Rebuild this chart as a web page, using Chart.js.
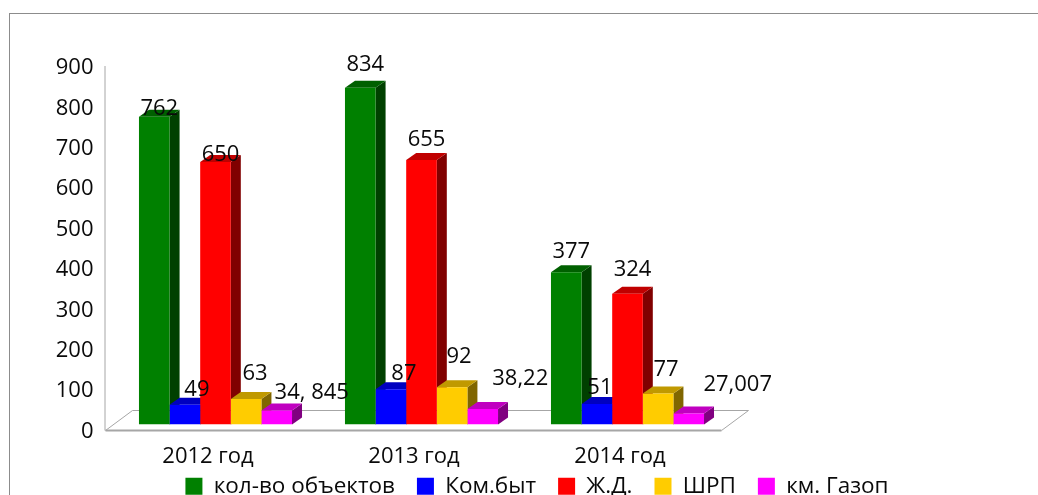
<!DOCTYPE html>
<html>
<head>
<meta charset="utf-8">
<style>
    html, body { margin: 0; padding: 0; background: #fff; overflow: hidden; }
    #box { position: absolute; left: 9px; top: 13px; width: 1040px; height: 500px; border: 1px solid #8c8c8c; box-sizing: border-box; }
    canvas { position: absolute; left: 0; top: 0; }
</style>
<script src="https://cdn.jsdelivr.net/npm/chart.js@4"></script>
</head>
<body>
<div id="box"></div>
<canvas id="chart" width="1038" height="495"></canvas>
<script>
const categories = ['2012 год', '2013 год', '2014 год'];
const seriesNames = ['кол-во объектов', 'Ком.быт', 'Ж.Д.', 'ШРП', 'км. Газоп'];
const objects = [762, 834, 377];
const komByt = [49, 87, 51];
const railway = [650, 655, 324];
const shrp = [63, 92, 77];
const gasKm = [34.845, 38.22, 27.007];
const gasLabels = ['34, 845', '38,22', '27,007'];

const FONT = '"Open Sans", sans-serif';

// front, top, side
const shades = [
    ['#008000', '#006000', '#004000'],
    ['#0000ff', '#0000c0', '#000080'],
    ['#ff0000', '#c00000', '#800000'],
    ['#ffcc00', '#c09900', '#806600'],
    ['#ff00ff', '#c000c0', '#800080']
];

// where each value label sits relative to the bar's top centre
const labelShift = [
    [[5, -8], [5, -23], [5, -20]],
    [[12, -15], [13, -16], [3, -16]],
    [[5, -7], [5, -20], [5, -24]],
    [[9, -25], [7, -31], [8, -24]],
    [[35, -18], [37.5, -30], [49, -29]]
];

const DEPTH_X = 10, DEPTH_Y = 7;

const depthPlugin = {
    id: 'depth',
    afterLayout(chart) {
        chart.legend.left += 18;
        chart.legend.right += 18;
        chart.legend.top = 453;
    },
    beforeDatasetsDraw(chart) {
        const ctx = chart.ctx;
        const base = chart.scales.y.getPixelForValue(0);
        const area = chart.chartArea;
        ctx.save();

        // floor
        ctx.strokeStyle = '#a6a6a6';
        ctx.lineWidth = 1;
        ctx.beginPath();
        ctx.moveTo(area.left - 7, base + 6);
        ctx.lineTo(area.left + 20, base - 14);
        ctx.lineTo(area.right + 18, base - 14);
        ctx.lineTo(area.right - 9, base + 6);
        ctx.stroke();
        ctx.lineWidth = 2;
        ctx.beginPath();
        ctx.moveTo(area.left - 7, base + 6);
        ctx.lineTo(area.right - 9, base + 6);
        ctx.stroke();

        // value wall edge
        ctx.lineWidth = 1;
        ctx.beginPath();
        ctx.moveTo(area.left - 7.5, area.top + 5);
        ctx.lineTo(area.left - 7.5, base + 6);
        ctx.stroke();

        // tops and sides, left to right, so the next front covers them
        categories.forEach((c, i) => {
            seriesNames.forEach((s, d) => {
                const bar = chart.getDatasetMeta(d).data[i];
                const l = bar.x - bar.width / 2, r = bar.x + bar.width / 2;
                ctx.fillStyle = shades[d][2];
                ctx.beginPath();
                ctx.moveTo(r, bar.y);
                ctx.lineTo(r + DEPTH_X, bar.y - DEPTH_Y);
                ctx.lineTo(r + DEPTH_X, base - DEPTH_Y);
                ctx.lineTo(r, base);
                ctx.closePath();
                ctx.fill();
                ctx.fillStyle = shades[d][1];
                ctx.beginPath();
                ctx.moveTo(l, bar.y);
                ctx.lineTo(l + DEPTH_X, bar.y - DEPTH_Y);
                ctx.lineTo(r + DEPTH_X, bar.y - DEPTH_Y);
                ctx.lineTo(r, bar.y);
                ctx.closePath();
                ctx.fill();
            });
        });
        ctx.restore();
    },
    afterDatasetsDraw(chart) {
        const ctx = chart.ctx;
        ctx.save();
        ctx.font = '22px ' + FONT;
        ctx.fillStyle = '#0a0a0a';
        ctx.textAlign = 'center';
        ctx.textBaseline = 'middle';
        seriesNames.forEach((s, d) => {
            chart.getDatasetMeta(d).data.forEach((bar, i) => {
                const value = chart.data.datasets[d].data[i];
                const text = d === 4 ? gasLabels[i] : String(value);
                ctx.fillText(text, bar.x + labelShift[d][i][0], bar.y + labelShift[d][i][1]);
            });
        });
        ctx.restore();
    }
};

const allSeries = [objects, komByt, railway, shrp, gasKm];

new Chart(document.getElementById('chart'), {
    type: 'bar',
    data: {
        labels: categories,
        datasets: seriesNames.map((name, d) => ({
            label: name,
            data: allSeries[d],
            backgroundColor: shades[d][0],
            borderWidth: 0,
            categoryPercentage: 0.743,
            barPercentage: 1
        }))
    },
    options: {
        responsive: false,
        animation: false,
        events: [],
        layout: { padding: { top: 61, bottom: -29 } },
        plugins: {
            tooltip: { enabled: false },
            legend: {
                position: 'bottom',
                labels: {
                    color: '#0a0a0a',
                    font: { family: FONT, size: 22.5 },
                    boxWidth: 17,
                    boxHeight: 17,
                    padding: 22
                }
            }
        },
        scales: {
            x: {
                grid: { display: false },
                border: { display: false },
                ticks: { color: '#0a0a0a', font: { family: FONT, size: 22 }, padding: 11, labelOffset: -7.5, maxRotation: 0, autoSkip: false },
                afterFit(scale) { scale.height = 45; }
            },
            y: {
                min: 0,
                max: 900,
                grid: { display: false },
                border: { display: false },
                ticks: { stepSize: 100, color: '#0a0a0a', font: { family: FONT, size: 22 }, padding: 11, labelOffset: 7 },
                afterFit(scale) { scale.width = 112.5; }
            },
            // empty axis, only holds the blank space right of the plot
            spacer: {
                position: 'right',
                grid: { display: false },
                border: { display: false },
                ticks: { display: false },
                afterFit(scale) { scale.width = 307.5; }
            }
        }
    },
    plugins: [depthPlugin]
});
</script>
</body>
</html>
